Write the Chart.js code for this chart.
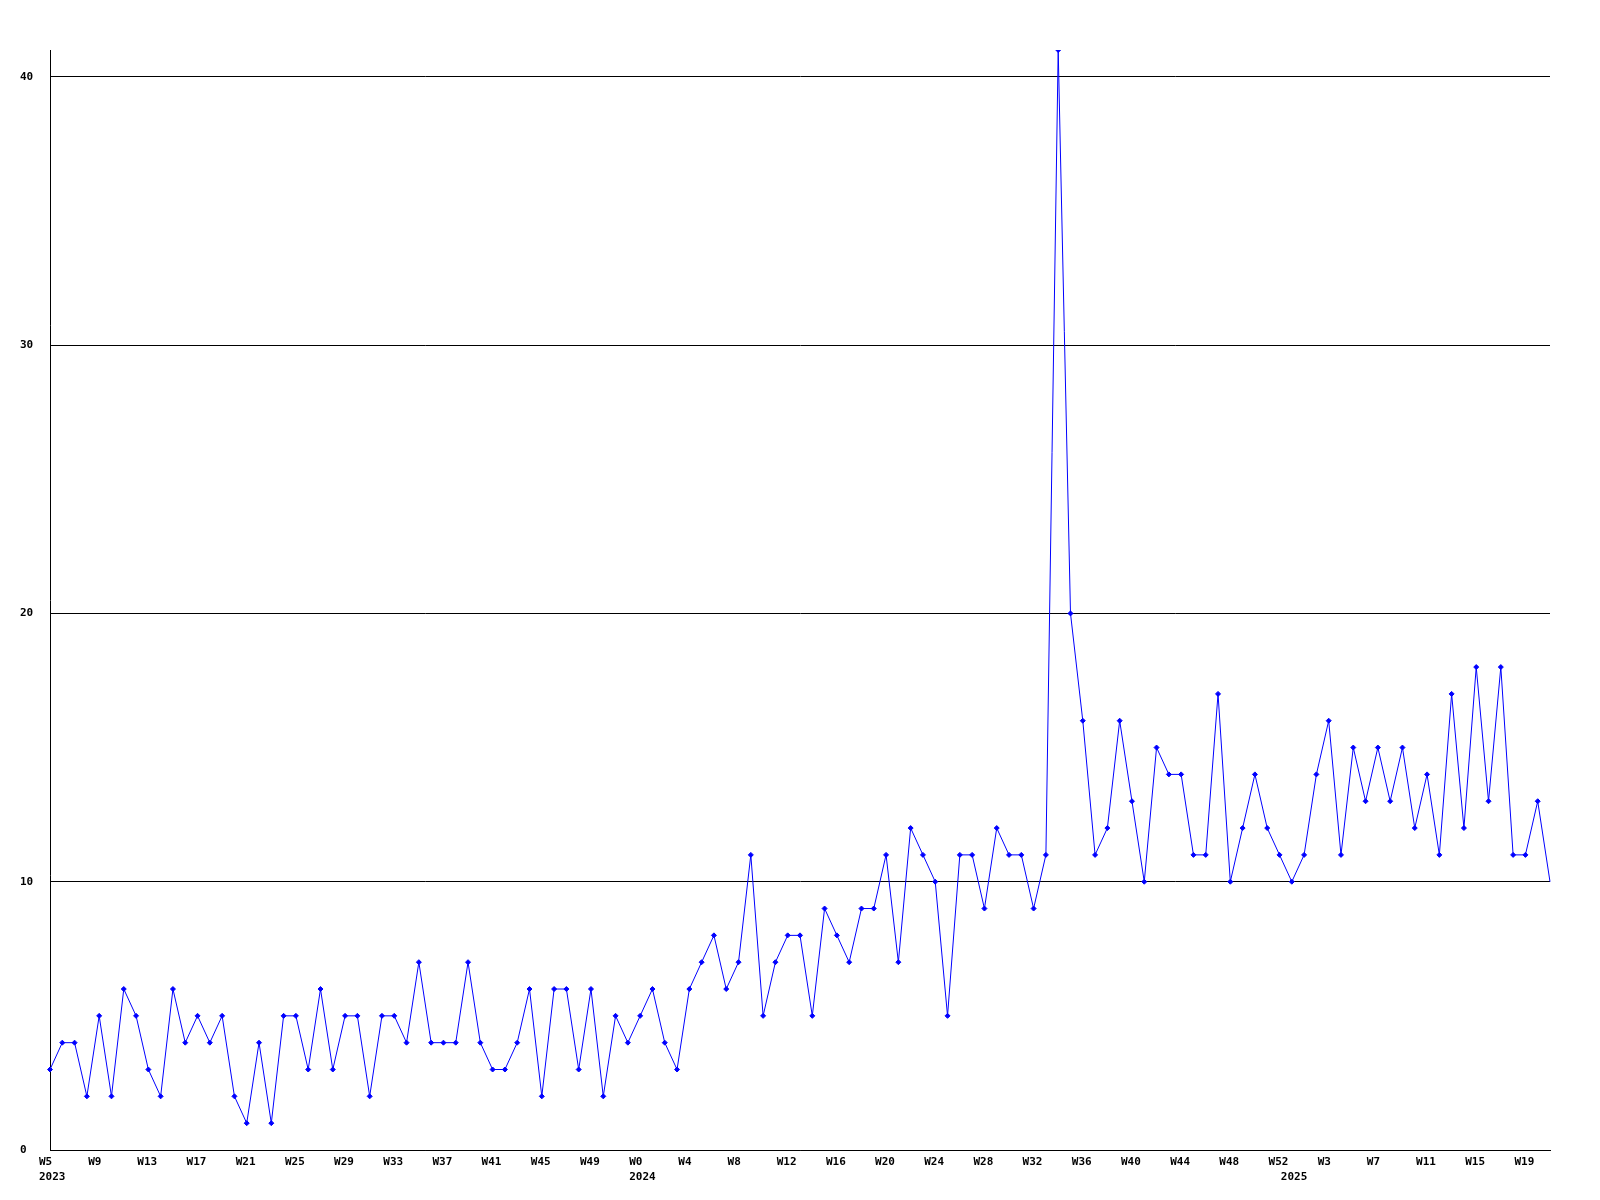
<!DOCTYPE html>
<html>
<head>
<meta charset="utf-8">
<script src="https://cdn.jsdelivr.net/npm/chart.js@4"></script>
<style>
  html, body { margin: 0; padding: 0; background: #fff; }
  canvas { display: block; }
</style>
</head>
<body>
<canvas id="weekChart" width="1600" height="1200"></canvas>
<script>
// week ranges per year (first and last week shown)
const years = [2023, 2024, 2025];
const firstWeek = [5, 0, 0];
const lastWeek = [52, 52, 21];

// weekly counts, W5 2023 .. W21 2025
const counts2023 = [3, 4, 4, 2, 5, 2, 6, 5, 3, 2, 6, 4, 5, 4, 5, 2, 1, 4, 1, 5, 5, 3, 6, 3, 5, 5, 2, 5, 5, 4, 7, 4, 4, 4, 7, 4, 3,
  3, 4, 6, 2, 6, 6, 3, 6, 2, 5, 4];
const counts2024 = [5, 6, 4, 3, 6, 7, 8, 6, 7, 11, 5, 7, 8, 8, 5, 9, 8, 7, 9, 9, 11, 7, 12, 11, 10, 5, 11, 11,
  9, 12, 11, 11, 9, 11, 41, 20, 16, 11, 12, 16, 13, 10, 15, 14, 14, 11, 11, 17, 10, 12, 14, 12, 11];
const counts2025 = [10, 11, 14, 16, 11, 15, 13, 15, 13, 15, 12, 14, 11, 17, 12, 18, 13, 18, 11, 11, 13, 10];

const yTicks = [0, 10, 20, 30, 40];
const yMax = 41;

const labels = [];
const yearAt = {};
years.forEach((y, k) => {
  yearAt[labels.length] = String(y);
  for (let w = firstWeek[k]; w <= lastWeek[k]; w++) labels.push("W" + w);
});
const values = counts2023.concat(counts2024, counts2025);

const tickFont = { family: "'DejaVu Sans Mono', monospace", size: 11, weight: "bold" };

new Chart(document.getElementById("weekChart"), {
  type: "line",
  data: {
    labels: labels,
    datasets: [{
      data: values,
      borderColor: "#0000ff",
      backgroundColor: "#0000ff",
      borderWidth: 1,
      tension: 0,
      pointStyle: "rectRot",
      // last point sits on the frame edge and has no marker in the original
      pointRadius: (ctx) => ctx.dataIndex === values.length - 1 ? 0 : 2.5,
      pointBorderWidth: 1,
      pointBorderColor: "#0000ff",
      pointBackgroundColor: "#0000ff",
    }],
  },
  options: {
    responsive: false,
    animation: false,
    events: [],
    layout: { padding: { top: 50, right: 50, left: 20, bottom: 0 } },
    plugins: { legend: { display: false }, tooltip: { enabled: false } },
    scales: {
      x: {
        offset: false,
        grid: { display: false, drawTicks: false },
        border: { display: true, color: "#000", width: 1 },
        afterFit: (scale) => { scale.height = 50; },
        ticks: {
          autoSkip: false,
          maxRotation: 0,
          minRotation: 0,
          align: "start",
          labelOffset: -11,
          padding: 5,
          color: "#000",
          font: { ...tickFont, lineHeight: 1.35 },
          callback: function (val, i) {
            const wk = i % 4 === 0 ? labels[i] : "";
            if (yearAt[i] !== undefined) return [wk, yearAt[i]];
            return wk;
          },
        },
      },
      y: {
        min: 0,
        max: yMax,
        afterBuildTicks: (scale) => {
          scale.ticks = yTicks.map(v => ({ value: v }));
        },
        afterFit: (scale) => { scale.width = 30; },
        grid: { color: "#000", lineWidth: 1, drawTicks: false },
        border: { display: true, color: "#000", width: 1 },
        ticks: {
          crossAlign: "far",
          padding: 4,
          color: "#000",
          font: tickFont,
        },
      },
    },
  },
});
</script>
</body>
</html>
